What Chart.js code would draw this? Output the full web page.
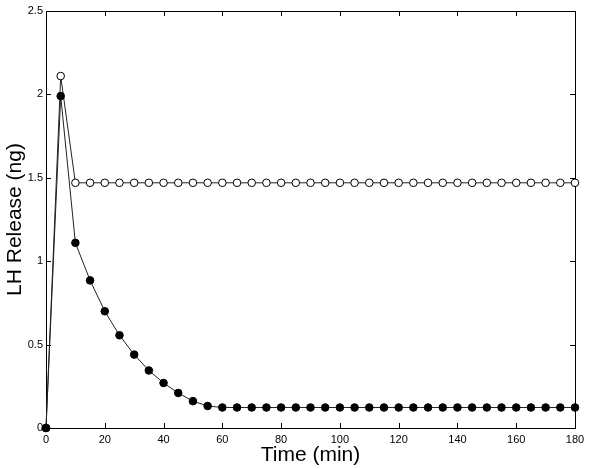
<!DOCTYPE html>
<html>
<head>
<meta charset="utf-8">
<script src="https://cdn.jsdelivr.net/npm/chart.js@4"></script>
<style>
  html, body { margin: 0; padding: 0; background: #fff; }
  #wrap { width: 600px; height: 469px; }
</style>
</head>
<body>
<div id="wrap"><canvas id="lhChart" width="600" height="469"></canvas></div>
<script>
var times = [0, 5, 10, 15, 20, 25, 30, 35, 40, 45, 50, 55, 60, 65, 70, 75, 80, 85, 90,
  95, 100, 105, 110, 115, 120, 125, 130, 135, 140, 145, 150, 155, 160, 165, 170, 175, 180];
var filledValues = [0, 1.99, 1.11, 0.885, 0.70, 0.556, 0.44, 0.345, 0.27, 0.21, 0.161, 0.132,
  0.123, 0.123, 0.123, 0.123, 0.123, 0.123, 0.123, 0.123, 0.123, 0.123, 0.123, 0.123, 0.123,
  0.123, 0.123, 0.123, 0.123, 0.123, 0.123, 0.123, 0.123, 0.123, 0.123, 0.123, 0.123];
var openValues = [0, 2.11, 1.47, 1.47, 1.47, 1.47, 1.47, 1.47, 1.47, 1.47, 1.47, 1.47,
  1.47, 1.47, 1.47, 1.47, 1.47, 1.47, 1.47, 1.47, 1.47, 1.47, 1.47, 1.47, 1.47,
  1.47, 1.47, 1.47, 1.47, 1.47, 1.47, 1.47, 1.47, 1.47, 1.47, 1.47, 1.47];
var xTicks = [0, 20, 40, 60, 80, 100, 120, 140, 160, 180];
var yTicks = [0, 0.5, 1, 1.5, 2, 2.5];

function toPoints(vals) {
  return times.map(function (t, i) { return { x: t, y: vals[i] }; });
}

// box round the plot and ticks pointing inwards on all four sides
var boxTicks = {
  id: 'boxTicks',
  beforeDatasetsDraw: function (chart) {
    var ctx = chart.ctx, a = chart.chartArea;
    var xs = chart.scales.x, ys = chart.scales.y;
    var len = 5;
    ctx.save();
    ctx.strokeStyle = '#000';
    ctx.lineWidth = 1;
    ctx.strokeRect(Math.round(a.left) + 0.5, Math.round(a.top) + 0.5,
      Math.round(a.right - a.left), Math.round(a.bottom - a.top));
    ctx.beginPath();
    xTicks.forEach(function (v) {
      var px = Math.round(xs.getPixelForValue(v)) + 0.5;
      ctx.moveTo(px, a.bottom); ctx.lineTo(px, a.bottom - len);
      ctx.moveTo(px, a.top); ctx.lineTo(px, a.top + len);
    });
    yTicks.forEach(function (v) {
      var py = Math.round(ys.getPixelForValue(v)) + 0.5;
      ctx.moveTo(a.left, py); ctx.lineTo(a.left + len, py);
      ctx.moveTo(a.right, py); ctx.lineTo(a.right - len, py);
    });
    ctx.stroke();
    ctx.restore();
  }
};

Chart.defaults.font.family = '"Liberation Sans", Arial, Helvetica, sans-serif';
Chart.defaults.color = '#000';

var ctx = document.getElementById('lhChart').getContext('2d');
var lhChart = new Chart(ctx, {
  type: 'line',
  data: {
    datasets: [{
      label: 'filled',
      data: toPoints(filledValues),
      borderColor: '#222',
      borderWidth: 1,
      backgroundColor: '#000',
      pointBackgroundColor: '#000',
      pointBorderColor: '#000',
      pointRadius: 3.8,
      pointBorderWidth: 1,
      tension: 0,
      clip: false,
      order: 0
    }, {
      label: 'open',
      data: toPoints(openValues),
      borderColor: '#222',
      borderWidth: 1,
      backgroundColor: '#fff',
      pointBackgroundColor: '#fff',
      pointBorderColor: '#000',
      pointRadius: 3.8,
      pointBorderWidth: 1,
      tension: 0,
      clip: false,
      order: 1
    }]
  },
  options: {
    responsive: false,
    animation: false,
    layout: { padding: { top: 11, right: 25, left: 0, bottom: 0 } },
    plugins: {
      legend: { display: false },
      tooltip: { enabled: false }
    },
    scales: {
      x: {
        type: 'linear',
        min: 0,
        max: 180,
        afterFit: function (s) { s.height = 41; },
        afterBuildTicks: function (s) { s.ticks = xTicks.map(function (v) { return { value: v }; }); },
        grid: { display: false, drawTicks: false },
        border: { display: true, color: '#000', width: 1 },
        ticks: { padding: 5, font: { size: 11 }, maxRotation: 0, autoSkip: false },
        title: {
          display: true,
          text: 'Time (min)',
          font: { size: 21 },
          padding: { top: 0, bottom: 1 }
        }
      },
      y: {
        min: 0,
        max: 2.5,
        afterFit: function (s) { s.width = 46; },
        afterBuildTicks: function (s) { s.ticks = yTicks.map(function (v) { return { value: v }; }); },
        grid: { display: false, drawTicks: false },
        border: { display: true, color: '#000', width: 1 },
        ticks: {
          padding: 3,
          font: { size: 11 },
          callback: function (v) { return String(v); }
        },
        title: {
          display: true,
          text: 'LH Release (ng)',
          font: { size: 21 },
          padding: { top: 3, bottom: 0 }
        }
      }
    }
  },
  plugins: [boxTicks]
});
</script>
</body>
</html>
